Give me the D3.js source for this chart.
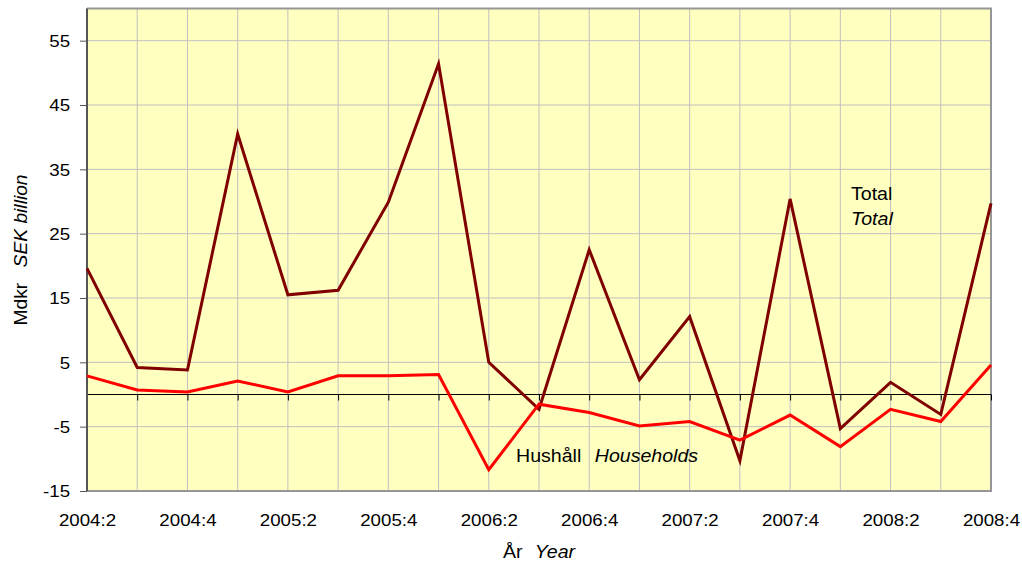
<!DOCTYPE html>
<html><head><meta charset="utf-8">
<script src="https://cdn.jsdelivr.net/npm/d3@7"></script>
<style>
body{margin:0;background:#fff}
text{font-family:Arial,"Liberation Sans",sans-serif;fill:#000}
</style>
</head><body>
<svg id="c" width="1022" height="566"></svg>
<script>
const categories = ["2004:2","2004:3","2004:4","2005:1","2005:2","2005:3","2005:4","2006:1","2006:2","2006:3","2006:4","2007:1","2007:2","2007:3","2007:4","2008:1","2008:2","2008:3","2008:4"];
const totalValues = [19.6,4.2,3.8,40.5,15.5,16.2,29.9,51.4,5.0,-2.3,22.5,2.3,12.1,-10.3,30.4,-5.3,1.9,-3.1,29.7];
const householdValues = [2.9,0.7,0.4,2.1,0.4,2.9,2.9,3.1,-11.7,-1.5,-2.8,-4.9,-4.2,-7.1,-3.2,-8.1,-2.3,-4.2,4.6];
const yTicks = [-15,-5,5,15,25,35,45,55];
const xTickLabels = categories.filter((d,i)=>i%2===0);

const svg = d3.select("#c");
const L = 87, R = 991, T = 8.5, B = 491;
const x = d3.scalePoint().domain(categories).range([L, R]);
const y = d3.scaleLinear().domain([-15, 60]).range([B, T]);

// plot background
svg.append("rect").attr("x", L).attr("y", T).attr("width", R - L).attr("height", B - T).attr("fill", "#ffffc0");

// grid
const grid = svg.append("g").attr("stroke", "#c0c0c0").attr("stroke-width", 1);
grid.selectAll(".v").data(categories).join("line")
  .attr("x1", d => x(d)).attr("x2", d => x(d)).attr("y1", T).attr("y2", B);
grid.selectAll(".h").data(yTicks).join("line")
  .attr("x1", L).attr("x2", R).attr("y1", d => y(d)).attr("y2", d => y(d));

// border: top, right, bottom
svg.append("path").attr("d", `M${L},${T}H${R}V${B}H${L}`).attr("fill", "none").attr("stroke", "#969696").attr("stroke-width", 2);

// zero axis with ticks
const xAxis = d3.axisBottom(x).tickSize(6).tickFormat("");
const zeroG = svg.append("g").attr("transform", `translate(0,${y(0)})`).call(xAxis);
zeroG.select(".domain").attr("d", `M${L},0H${R}`).attr("stroke", "#000");
zeroG.selectAll(".tick line").attr("stroke", "#000");

// x tick labels at bottom
const xLab = svg.append("g").attr("transform", `translate(0,${B})`)
  .call(d3.axisBottom(x).tickValues(xTickLabels).tickSize(0).tickPadding(0));
xLab.select(".domain").remove();
xLab.selectAll("text").attr("font-size", 16).attr("y", 35).attr("dy", null)
  .attr("transform", "scale(1.17,1)").attr("font-family", "Arial, Liberation Sans, sans-serif");

// y axis
const yAx = svg.append("g").attr("transform", `translate(${L},0)`)
  .call(d3.axisLeft(y).tickValues(yTicks).tickSize(7).tickPadding(0).tickFormat(d => String(d)));
yAx.select(".domain").attr("d", `M0,${T}V${B}`).attr("stroke", "#555").attr("stroke-width", 2);
yAx.selectAll(".tick line").attr("stroke", "#555");
yAx.selectAll("text").attr("font-size", 16).attr("x", -14.5).attr("dy", "0.36em")
  .attr("transform", "scale(1.17,1)").attr("font-family", "Arial, Liberation Sans, sans-serif");

// lines
const line = d3.line().x((d, i) => x(categories[i])).y(d => y(d));
svg.append("path").datum(totalValues).attr("d", line).attr("fill", "none")
  .attr("stroke", "#800000").attr("stroke-width", 3).attr("stroke-linejoin", "miter");
svg.append("path").datum(householdValues).attr("d", line).attr("fill", "none")
  .attr("stroke", "#ff0000").attr("stroke-width", 3).attr("stroke-linejoin", "miter");

// annotations
function label(tx, ty, parts) {
  const t = svg.append("text").attr("transform", `translate(${tx},${ty}) scale(1.12,1)`).attr("font-size", 17.5);
  parts.forEach(p => t.append("tspan").text(p.t).attr("font-style", p.i ? "italic" : "normal").attr("dx", p.dx || 0));
  return t;
}
label(851, 200, [{t: "Total"}]);
label(851, 225, [{t: "Total", i: true}]);
label(516, 462, [{t: "Hushåll"}, {t: "Households", i: true, dx: 12}]);

// axis titles
const xt = svg.append("text").attr("transform", `translate(539,558) scale(1.12,1)`).attr("text-anchor", "middle").attr("font-size", 17.5);
xt.append("tspan").text("År");
xt.append("tspan").text("Year").attr("font-style", "italic").attr("dx", 11);

const yt = svg.append("text").attr("transform", `translate(27,250) rotate(-90) scale(1.1,1.05)`).attr("text-anchor", "middle").attr("font-size", 17.5);
yt.append("tspan").text("Mdkr");
yt.append("tspan").text("SEK billion").attr("font-style", "italic").attr("dx", 14);
</script>
</body></html>
